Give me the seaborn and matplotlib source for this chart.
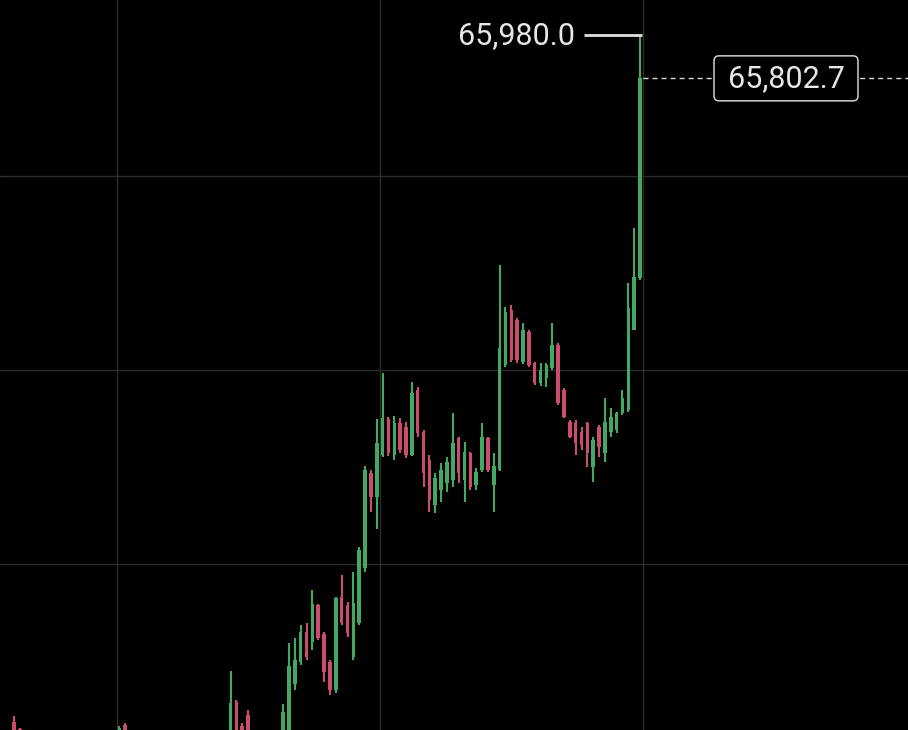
import numpy as np
import pandas as pd
import matplotlib
matplotlib.use("Agg")
import matplotlib.pyplot as plt
import matplotlib.transforms as mtrans
from matplotlib.patches import FancyBboxPatch
import seaborn as sns

# candle slots (109 slots, only the ones that reach into the visible window)
slot = [1, 2, 19, 20, 38, 39, 40, 41] + list(range(47, 109))

opens = [63148, 63120, 62992, 63136, 63074, 63231, 63132, 63177,
         62992, 63074, 63305, 63396, 63519, 63478, 63631, 63511, 63396, 63280,
         63664, 63631, 63416, 63557, 63783, 64175, 64076, 64249, 64398, 64249,
         64381, 64365, 64249, 64517, 64344, 64229, 64043, 64105, 64134, 64146,
         64320, 64146, 64258, 64126, 64188, 64320, 64126, 64188, 64621, 64847,
         64806, 64633, 64757, 64629, 64546, 64567, 64608, 64703, 64517, 64386,
         64381, 64344, 64381, 64200, 64365, 64258, 64344, 64353, 64423, 64435,
         64765, 64979]
highs = [63173, 63124, 63132, 63144, 63359, 63239, 63144, 63198,
         63223, 63474, 63494, 63548, 63557, 63693, 63635, 63519, 63404, 63664,
         63755, 63643, 63767, 63870, 64204, 64188, 64398, 64588, 64406, 64410,
         64402, 64386, 64550, 64530, 64353, 64249, 64175, 64216, 64241, 64423,
         64324, 64303, 64262, 64196, 64381, 64324, 64258, 65033, 64860, 64868,
         64814, 64794, 64765, 64633, 64629, 64629, 64794, 64711, 64526, 64394,
         64394, 64365, 64386, 64324, 64373, 64484, 64443, 64427, 64517, 64959,
         65186, 65980.0]
lows = [62992, 62992, 62950, 62992, 62992, 62992, 62992, 62992,
        62950, 63033, 63280, 63383, 63404, 63445, 63486, 63313, 63260, 63268,
        63548, 63499, 63404, 63548, 63767, 64014, 63944, 64241, 64245, 64229,
        64258, 64237, 64245, 64324, 64117, 64014, 64010, 64056, 64097, 64117,
        64134, 64056, 64105, 64105, 64179, 64179, 64014, 64183, 64612, 64633,
        64629, 64625, 64612, 64538, 64534, 64530, 64600, 64456, 64402, 64320,
        64249, 64270, 64200, 64138, 64241, 64221, 64324, 64340, 64414, 64427,
        64765, 64971]
closes = [63053, 63074, 63124, 63033, 63227, 63053, 63033, 63074,
          63190, 63379, 63404, 63519, 63416, 63635, 63495, 63355, 63280, 63660,
          63557, 63515, 63639, 63858, 64188, 64076, 64299, 64402, 64258, 64381,
          64270, 64249, 64505, 64340, 64175, 64064, 64155, 64188, 64221, 64299,
          64175, 64262, 64117, 64179, 64324, 64188, 64204, 64691, 64839, 64641,
          64641, 64765, 64621, 64546, 64600, 64621, 64703, 64464, 64406, 64324,
          64299, 64291, 64258, 64311, 64282, 64386, 64406, 64423, 64484, 64856,
          64984, 65802.7]

high_label = "65,980.0"
last_label = "65,802.7"
price_grid = [63800, 64600, 65400]
time_grid = [18.55, 63.55, 108.55]

green = "#42a862"
red = "#cc4c6e"

df = pd.DataFrame({"slot": slot, "open": opens, "high": highs, "low": lows, "close": closes})
df["up"] = df.close >= df.open
df["color"] = np.where(df.up, green, red)
df["bottom"] = df[["open", "close"]].min(axis=1)
df["height"] = (df.close - df.open).abs().clip(lower=4)

sns.set_theme(style="darkgrid", rc={
    "axes.facecolor": "black", "figure.facecolor": "black",
    "grid.color": "#2c2c2c", "grid.linewidth": 1.0,
})
plt.rcParams["font.family"] = ["Roboto", "DejaVu Sans"]

fig = plt.figure(figsize=(9.08, 7.30), dpi=100)
ax = fig.add_axes([0, 0, 1, 1])

px = 1 / 5.85  # candle slots per pixel
last = df.iloc[-1]
ax.set_xlim(last.slot - 640 * px, last.slot + 268 * px)
ax.set_ylim(63115.3, 66125.8)

ax.vlines(df.slot, df.low, df.high, colors=df.color, lw=1.5, zorder=3)
ax.bar(df.slot, df.height, bottom=df.bottom, width=0.6, color=df.color, lw=0, zorder=3)

ax.set_xticks(time_grid)
ax.set_yticks(price_grid)
ax.tick_params(labelleft=False, labelbottom=False, length=0)
for s in ax.spines.values():
    s.set_visible(False)

# high marker
ax.hlines(last.high, last.slot - 56 * px, last.slot + 0.3, color="#dedede", lw=2.0, zorder=4)
ax.text(last.slot - 65 * px, last.high, high_label, color="#e6e6e6", fontsize=22,
        ha="right", va="center", zorder=5)

# last price line + box
ax.hlines(last.close, last.slot + 0.5, ax.get_xlim()[1], color="#d8d8d8", lw=1.0,
          linestyles=(0, (3.6, 2.9)), zorder=4)
bx = last.slot + 146 * px
fig.canvas.draw()
cx, cy = ax.transData.transform((bx, last.close))
r = 5
box = FancyBboxPatch((cx - 72 + r, cy - 22.5 + r), 144 - 2 * r, 45 - 2 * r,
                     boxstyle=f"round,pad={r}", transform=mtrans.IdentityTransform(),
                     fc="black", ec="#cfcfcf", lw=1.1, zorder=6)
fig.patches.append(box)
box.set_figure(fig)
fig.text(cx / fig.bbox.width, cy / fig.bbox.height, last_label, color="#e6e6e6",
         fontsize=22, ha="center", va="center", zorder=7)

fig.savefig("out.png", dpi=100, facecolor="black")
